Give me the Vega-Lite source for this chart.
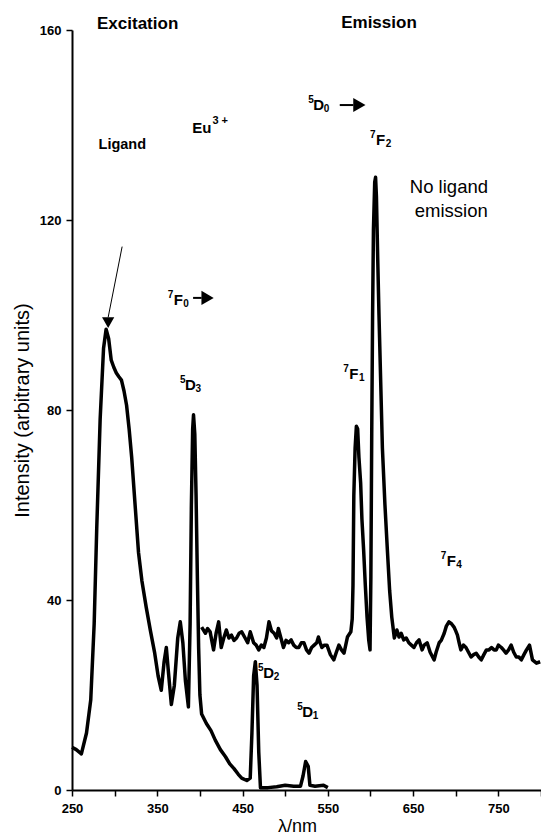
{
  "$schema": "https://vega.github.io/schema/vega-lite/v6.json",
  "width": 469,
  "height": 760,
  "autosize": {"type": "none"},
  "padding": {"left": 72, "top": 30, "right": 0, "bottom": 48},
  "background": "white",
  "config": {
    "view": {"stroke": null},
    "font": "Liberation Sans",
    "axis": {"grid": false, "domainColor": "black", "tickColor": "black", "labelColor": "black", "titleColor": "black", "domainWidth": 2, "tickWidth": 1.5, "labelFont": "Liberation Sans", "titleFont": "Liberation Sans"}
  },
  "datasets": {
    "spectra": [
      {"series": "Excitation", "wl": 250, "I": 9},
      {"series": "Excitation", "wl": 255, "I": 8.5},
      {"series": "Excitation", "wl": 261, "I": 7.6},
      {"series": "Excitation", "wl": 267, "I": 12},
      {"series": "Excitation", "wl": 272, "I": 19},
      {"series": "Excitation", "wl": 276, "I": 35},
      {"series": "Excitation", "wl": 279, "I": 55},
      {"series": "Excitation", "wl": 283, "I": 78},
      {"series": "Excitation", "wl": 287, "I": 93},
      {"series": "Excitation", "wl": 290, "I": 97},
      {"series": "Excitation", "wl": 293, "I": 95},
      {"series": "Excitation", "wl": 296, "I": 90.5},
      {"series": "Excitation", "wl": 299, "I": 89},
      {"series": "Excitation", "wl": 302, "I": 87.8},
      {"series": "Excitation", "wl": 305, "I": 87},
      {"series": "Excitation", "wl": 308, "I": 86.3},
      {"series": "Excitation", "wl": 311, "I": 84},
      {"series": "Excitation", "wl": 314, "I": 81},
      {"series": "Excitation", "wl": 317, "I": 76},
      {"series": "Excitation", "wl": 320, "I": 70},
      {"series": "Excitation", "wl": 324, "I": 60},
      {"series": "Excitation", "wl": 328, "I": 50},
      {"series": "Excitation", "wl": 332, "I": 44},
      {"series": "Excitation", "wl": 337, "I": 38.5},
      {"series": "Excitation", "wl": 342, "I": 33.5},
      {"series": "Excitation", "wl": 347, "I": 28.8},
      {"series": "Excitation", "wl": 351, "I": 24},
      {"series": "Excitation", "wl": 354.7, "I": 21},
      {"series": "Excitation", "wl": 358, "I": 27},
      {"series": "Excitation", "wl": 360.6, "I": 30},
      {"series": "Excitation", "wl": 363, "I": 25},
      {"series": "Excitation", "wl": 366.5, "I": 18},
      {"series": "Excitation", "wl": 370, "I": 22},
      {"series": "Excitation", "wl": 374, "I": 32},
      {"series": "Excitation", "wl": 377, "I": 35.4},
      {"series": "Excitation", "wl": 380, "I": 31},
      {"series": "Excitation", "wl": 383, "I": 23},
      {"series": "Excitation", "wl": 386.5, "I": 17.5},
      {"series": "Excitation", "wl": 388.5, "I": 35},
      {"series": "Excitation", "wl": 390, "I": 60},
      {"series": "Excitation", "wl": 391.5, "I": 76},
      {"series": "Excitation", "wl": 392.5, "I": 79},
      {"series": "Excitation", "wl": 394, "I": 75},
      {"series": "Excitation", "wl": 395.5, "I": 62},
      {"series": "Excitation", "wl": 397, "I": 45},
      {"series": "Excitation", "wl": 398.5, "I": 30},
      {"series": "Excitation", "wl": 400, "I": 20},
      {"series": "Excitation", "wl": 402, "I": 16},
      {"series": "Excitation", "wl": 407.6, "I": 14},
      {"series": "Excitation", "wl": 413, "I": 12.5},
      {"series": "Excitation", "wl": 418, "I": 10.5},
      {"series": "Excitation", "wl": 424, "I": 8.5},
      {"series": "Excitation", "wl": 430, "I": 7},
      {"series": "Excitation", "wl": 435, "I": 5.5},
      {"series": "Excitation", "wl": 440, "I": 4.5},
      {"series": "Excitation", "wl": 445, "I": 3.3},
      {"series": "Excitation", "wl": 449, "I": 2.5},
      {"series": "Excitation", "wl": 455, "I": 2},
      {"series": "Excitation", "wl": 459, "I": 2.5},
      {"series": "Excitation", "wl": 461, "I": 12},
      {"series": "Excitation", "wl": 463, "I": 24},
      {"series": "Excitation", "wl": 465, "I": 27},
      {"series": "Excitation", "wl": 467, "I": 22},
      {"series": "Excitation", "wl": 469, "I": 8},
      {"series": "Excitation", "wl": 471, "I": 0.5},
      {"series": "Excitation", "wl": 480, "I": 0.5},
      {"series": "Excitation", "wl": 490, "I": 0.7},
      {"series": "Excitation", "wl": 500, "I": 1},
      {"series": "Excitation", "wl": 510, "I": 0.8},
      {"series": "Excitation", "wl": 518, "I": 0.8},
      {"series": "Excitation", "wl": 521, "I": 3},
      {"series": "Excitation", "wl": 524, "I": 6},
      {"series": "Excitation", "wl": 527, "I": 5},
      {"series": "Excitation", "wl": 529, "I": 1},
      {"series": "Excitation", "wl": 535, "I": 0.8},
      {"series": "Excitation", "wl": 545, "I": 1},
      {"series": "Excitation", "wl": 550, "I": 0.5},
      {"series": "Emission", "wl": 402, "I": 34.3},
      {"series": "Emission", "wl": 406.5, "I": 33},
      {"series": "Emission", "wl": 409, "I": 34},
      {"series": "Emission", "wl": 412, "I": 33.3},
      {"series": "Emission", "wl": 416, "I": 29.5},
      {"series": "Emission", "wl": 419, "I": 33},
      {"series": "Emission", "wl": 422, "I": 35.4},
      {"series": "Emission", "wl": 425, "I": 30},
      {"series": "Emission", "wl": 428, "I": 32},
      {"series": "Emission", "wl": 431, "I": 33.7},
      {"series": "Emission", "wl": 434, "I": 32},
      {"series": "Emission", "wl": 437, "I": 32.6},
      {"series": "Emission", "wl": 440, "I": 31.5},
      {"series": "Emission", "wl": 443, "I": 32},
      {"series": "Emission", "wl": 446, "I": 33},
      {"series": "Emission", "wl": 449, "I": 33.3},
      {"series": "Emission", "wl": 453, "I": 32},
      {"series": "Emission", "wl": 456, "I": 31},
      {"series": "Emission", "wl": 459, "I": 33.3},
      {"series": "Emission", "wl": 463, "I": 31},
      {"series": "Emission", "wl": 466, "I": 30.5},
      {"series": "Emission", "wl": 469, "I": 29.5},
      {"series": "Emission", "wl": 472, "I": 30.5},
      {"series": "Emission", "wl": 475, "I": 30},
      {"series": "Emission", "wl": 478, "I": 32},
      {"series": "Emission", "wl": 481, "I": 35.4},
      {"series": "Emission", "wl": 484, "I": 33.5},
      {"series": "Emission", "wl": 487, "I": 33},
      {"series": "Emission", "wl": 490, "I": 32},
      {"series": "Emission", "wl": 492, "I": 34},
      {"series": "Emission", "wl": 495, "I": 32},
      {"series": "Emission", "wl": 498, "I": 30},
      {"series": "Emission", "wl": 501, "I": 31.5},
      {"series": "Emission", "wl": 504, "I": 31},
      {"series": "Emission", "wl": 507, "I": 31.6},
      {"series": "Emission", "wl": 510, "I": 30.5},
      {"series": "Emission", "wl": 513, "I": 30},
      {"series": "Emission", "wl": 516, "I": 30},
      {"series": "Emission", "wl": 519, "I": 31},
      {"series": "Emission", "wl": 522, "I": 31},
      {"series": "Emission", "wl": 525, "I": 29.5},
      {"series": "Emission", "wl": 528, "I": 28.8},
      {"series": "Emission", "wl": 531, "I": 30},
      {"series": "Emission", "wl": 534, "I": 30.5},
      {"series": "Emission", "wl": 537, "I": 31},
      {"series": "Emission", "wl": 539, "I": 32.2},
      {"series": "Emission", "wl": 541, "I": 31},
      {"series": "Emission", "wl": 543, "I": 30},
      {"series": "Emission", "wl": 546, "I": 30.5},
      {"series": "Emission", "wl": 549, "I": 30.5},
      {"series": "Emission", "wl": 553, "I": 28.5},
      {"series": "Emission", "wl": 557, "I": 27.4},
      {"series": "Emission", "wl": 560, "I": 29},
      {"series": "Emission", "wl": 563, "I": 30.5},
      {"series": "Emission", "wl": 566, "I": 29.5},
      {"series": "Emission", "wl": 569, "I": 28.8},
      {"series": "Emission", "wl": 573, "I": 32.2},
      {"series": "Emission", "wl": 577, "I": 33.3},
      {"series": "Emission", "wl": 578.6, "I": 36},
      {"series": "Emission", "wl": 579.5, "I": 43},
      {"series": "Emission", "wl": 580.5, "I": 62},
      {"series": "Emission", "wl": 582, "I": 72},
      {"series": "Emission", "wl": 583.5, "I": 76.6},
      {"series": "Emission", "wl": 585, "I": 76},
      {"series": "Emission", "wl": 586.5, "I": 70},
      {"series": "Emission", "wl": 588.5, "I": 64.6},
      {"series": "Emission", "wl": 590, "I": 57},
      {"series": "Emission", "wl": 592, "I": 50.5},
      {"series": "Emission", "wl": 594, "I": 43},
      {"series": "Emission", "wl": 596, "I": 36.4},
      {"series": "Emission", "wl": 598, "I": 31.5},
      {"series": "Emission", "wl": 599.5, "I": 29.5},
      {"series": "Emission", "wl": 600.5, "I": 45},
      {"series": "Emission", "wl": 601.5, "I": 75},
      {"series": "Emission", "wl": 602.5, "I": 100},
      {"series": "Emission", "wl": 603.5, "I": 118},
      {"series": "Emission", "wl": 605, "I": 128},
      {"series": "Emission", "wl": 606, "I": 129},
      {"series": "Emission", "wl": 607, "I": 125},
      {"series": "Emission", "wl": 608.5, "I": 112},
      {"series": "Emission", "wl": 610, "I": 100},
      {"series": "Emission", "wl": 612, "I": 86},
      {"series": "Emission", "wl": 614, "I": 72},
      {"series": "Emission", "wl": 617, "I": 60},
      {"series": "Emission", "wl": 620, "I": 50},
      {"series": "Emission", "wl": 622.5, "I": 42},
      {"series": "Emission", "wl": 625, "I": 36.4},
      {"series": "Emission", "wl": 628, "I": 32},
      {"series": "Emission", "wl": 631, "I": 33.7},
      {"series": "Emission", "wl": 633.5, "I": 32.2},
      {"series": "Emission", "wl": 636, "I": 33},
      {"series": "Emission", "wl": 639, "I": 31.6},
      {"series": "Emission", "wl": 642, "I": 32},
      {"series": "Emission", "wl": 645, "I": 31},
      {"series": "Emission", "wl": 648, "I": 30.5},
      {"series": "Emission", "wl": 651, "I": 30},
      {"series": "Emission", "wl": 654, "I": 31},
      {"series": "Emission", "wl": 657, "I": 31.6},
      {"series": "Emission", "wl": 660.6, "I": 29.5},
      {"series": "Emission", "wl": 663, "I": 30.5},
      {"series": "Emission", "wl": 666.5, "I": 31},
      {"series": "Emission", "wl": 670, "I": 29},
      {"series": "Emission", "wl": 674.7, "I": 27.4},
      {"series": "Emission", "wl": 677, "I": 29},
      {"series": "Emission", "wl": 680.6, "I": 31},
      {"series": "Emission", "wl": 683, "I": 31.5},
      {"series": "Emission", "wl": 686.5, "I": 33},
      {"series": "Emission", "wl": 689, "I": 34.5},
      {"series": "Emission", "wl": 692, "I": 35.4},
      {"series": "Emission", "wl": 695, "I": 35},
      {"series": "Emission", "wl": 698, "I": 34.3},
      {"series": "Emission", "wl": 700, "I": 33.5},
      {"series": "Emission", "wl": 702, "I": 32.6},
      {"series": "Emission", "wl": 704, "I": 31},
      {"series": "Emission", "wl": 706, "I": 29.5},
      {"series": "Emission", "wl": 709, "I": 30.5},
      {"series": "Emission", "wl": 712, "I": 30},
      {"series": "Emission", "wl": 715, "I": 29},
      {"series": "Emission", "wl": 718, "I": 28},
      {"series": "Emission", "wl": 721, "I": 28.5},
      {"series": "Emission", "wl": 724, "I": 28.8},
      {"series": "Emission", "wl": 727, "I": 28},
      {"series": "Emission", "wl": 730, "I": 27.4},
      {"series": "Emission", "wl": 733, "I": 28.5},
      {"series": "Emission", "wl": 736, "I": 29.5},
      {"series": "Emission", "wl": 739, "I": 29.5},
      {"series": "Emission", "wl": 742, "I": 30},
      {"series": "Emission", "wl": 745, "I": 29.5},
      {"series": "Emission", "wl": 747.6, "I": 29.5},
      {"series": "Emission", "wl": 750, "I": 30.5},
      {"series": "Emission", "wl": 753.5, "I": 30},
      {"series": "Emission", "wl": 756, "I": 29.5},
      {"series": "Emission", "wl": 759, "I": 28.8},
      {"series": "Emission", "wl": 762, "I": 29.5},
      {"series": "Emission", "wl": 765, "I": 30.5},
      {"series": "Emission", "wl": 768, "I": 29},
      {"series": "Emission", "wl": 771, "I": 28},
      {"series": "Emission", "wl": 774, "I": 28},
      {"series": "Emission", "wl": 777, "I": 27.4},
      {"series": "Emission", "wl": 780, "I": 28.5},
      {"series": "Emission", "wl": 783, "I": 29.5},
      {"series": "Emission", "wl": 786.5, "I": 30.5},
      {"series": "Emission", "wl": 790, "I": 27.4},
      {"series": "Emission", "wl": 794.7, "I": 26.7},
      {"series": "Emission", "wl": 799, "I": 27}
    ],
    "terms": [
      {"x": 539.4, "y": 144.2, "sup": "5", "base": "D", "sub": "0"},
      {"x": 612, "y": 136.8, "sup": "7", "base": "F", "sub": "2"},
      {"x": 374.7, "y": 103.2, "sup": "7", "base": "F", "sub": "0"},
      {"x": 389, "y": 85.3, "sup": "5", "base": "D", "sub": "3"},
      {"x": 580.6, "y": 87.6, "sup": "7", "base": "F", "sub": "1"},
      {"x": 694.7, "y": 48.2, "sup": "7", "base": "F", "sub": "4"},
      {"x": 480.6, "y": 24.6, "sup": "5", "base": "D", "sub": "2"},
      {"x": 526.5, "y": 16.4, "sup": "5", "base": "D", "sub": "1"}
    ],
    "headers": [
      {"x": 327, "y": 161.2, "text": "Excitation"},
      {"x": 610, "y": 161.5, "text": "Emission"}
    ],
    "notes": [
      {"x": 692, "y": 126.9, "text": "No ligand"},
      {"x": 694.7, "y": 121.9, "text": "emission"}
    ],
    "ligand": [{"x": 309, "y": 135.8, "text": "Ligand"}],
    "eu": [{"x": 413.5, "y": 139.4, "base": "Eu", "sup": "3 +"}],
    "harrows": [
      {"x": 392, "x2": 402, "y": 103.6, "hx": 409},
      {"x": 564, "x2": 580, "y": 144.2, "hx": 587}
    ],
    "pointer": [{"x": 308.8, "y": 114.4, "x2": 292.4, "y2": 99.5, "hy": 98.4}]
  },
  "layer": [
    {
      "data": {"name": "spectra"},
      "mark": {"type": "line", "color": "black", "strokeWidth": 3.5, "strokeJoin": "round"},
      "encoding": {
        "x": {
          "field": "wl", "type": "quantitative",
          "scale": {"domain": [250, 800], "nice": false, "zero": false},
          "axis": {
            "title": "λ/nm", "titleFontSize": 18, "titleFontWeight": "normal", "titlePadding": 2, "titleX": 225,
            "values": [250, 300, 350, 400, 450, 500, 550, 600, 650, 700, 750, 800],
            "labelExpr": "datum.value % 100 == 50 ? datum.label : ''",
            "labelFontSize": 13, "labelFontWeight": "bold", "labelPadding": 6, "tickSize": 6, "labelFlush": false
          }
        },
        "y": {
          "field": "I", "type": "quantitative",
          "scale": {"domain": [0, 160], "nice": false},
          "axis": {
            "title": "Intensity (arbitrary units)", "titleFontSize": 20, "titleFontWeight": "normal", "titlePadding": 7,
            "values": [0, 40, 80, 120, 160],
            "labelFontSize": 13, "labelFontWeight": "bold", "labelPadding": 5, "tickSize": 6
          }
        },
        "detail": {"field": "series"}
      }
    },
    {
      "data": {"name": "harrows"},
      "mark": {"type": "rule", "color": "black", "strokeWidth": 2},
      "encoding": {
        "x": {"field": "x", "type": "quantitative"},
        "x2": {"field": "x2"},
        "y": {"field": "y", "type": "quantitative"}
      }
    },
    {
      "data": {"name": "harrows"},
      "mark": {"type": "point", "shape": "triangle-right", "filled": true, "color": "black", "size": 200, "opacity": 1},
      "encoding": {
        "x": {"field": "hx", "type": "quantitative"},
        "y": {"field": "y", "type": "quantitative"}
      }
    },
    {
      "data": {"name": "pointer"},
      "mark": {"type": "rule", "color": "black", "strokeWidth": 1},
      "encoding": {
        "x": {"field": "x", "type": "quantitative"},
        "y": {"field": "y", "type": "quantitative"},
        "x2": {"field": "x2"},
        "y2": {"field": "y2"}
      }
    },
    {
      "data": {"name": "pointer"},
      "mark": {"type": "point", "shape": "triangle-down", "filled": true, "color": "black", "size": 150, "opacity": 1},
      "encoding": {
        "x": {"field": "x2", "type": "quantitative"},
        "y": {"field": "hy", "type": "quantitative"}
      }
    },
    {
      "data": {"name": "terms"},
      "mark": {"type": "text", "fontSize": 15, "fontWeight": "bold", "align": "center", "baseline": "middle", "color": "black"},
      "encoding": {
        "x": {"field": "x", "type": "quantitative"},
        "y": {"field": "y", "type": "quantitative"},
        "text": {"field": "base"}
      }
    },
    {
      "data": {"name": "terms"},
      "mark": {"type": "text", "fontSize": 10, "fontWeight": "bold", "align": "right", "baseline": "middle", "dx": -5, "dy": -5, "color": "black"},
      "encoding": {
        "x": {"field": "x", "type": "quantitative"},
        "y": {"field": "y", "type": "quantitative"},
        "text": {"field": "sup"}
      }
    },
    {
      "data": {"name": "terms"},
      "mark": {"type": "text", "fontSize": 10, "fontWeight": "bold", "align": "left", "baseline": "middle", "dx": 5, "dy": 4, "color": "black"},
      "encoding": {
        "x": {"field": "x", "type": "quantitative"},
        "y": {"field": "y", "type": "quantitative"},
        "text": {"field": "sub"}
      }
    },
    {
      "data": {"name": "headers"},
      "mark": {"type": "text", "fontSize": 17, "fontWeight": "bold", "align": "center", "baseline": "middle", "color": "black"},
      "encoding": {
        "x": {"field": "x", "type": "quantitative"},
        "y": {"field": "y", "type": "quantitative"},
        "text": {"field": "text"}
      }
    },
    {
      "data": {"name": "notes"},
      "mark": {"type": "text", "fontSize": 18.5, "fontWeight": "normal", "align": "center", "baseline": "middle", "color": "black"},
      "encoding": {
        "x": {"field": "x", "type": "quantitative"},
        "y": {"field": "y", "type": "quantitative"},
        "text": {"field": "text"}
      }
    },
    {
      "data": {"name": "ligand"},
      "mark": {"type": "text", "fontSize": 14.5, "fontWeight": "bold", "align": "center", "baseline": "middle", "color": "black"},
      "encoding": {
        "x": {"field": "x", "type": "quantitative"},
        "y": {"field": "y", "type": "quantitative"},
        "text": {"field": "text"}
      }
    },
    {
      "data": {"name": "eu"},
      "mark": {"type": "text", "fontSize": 15, "fontWeight": "bold", "align": "right", "baseline": "middle", "color": "black"},
      "encoding": {
        "x": {"field": "x", "type": "quantitative"},
        "y": {"field": "y", "type": "quantitative"},
        "text": {"field": "base"}
      }
    },
    {
      "data": {"name": "eu"},
      "mark": {"type": "text", "fontSize": 11, "fontWeight": "bold", "align": "left", "baseline": "middle", "dx": 1, "dy": -7, "color": "black"},
      "encoding": {
        "x": {"field": "x", "type": "quantitative"},
        "y": {"field": "y", "type": "quantitative"},
        "text": {"field": "sup"}
      }
    }
  ]
}
